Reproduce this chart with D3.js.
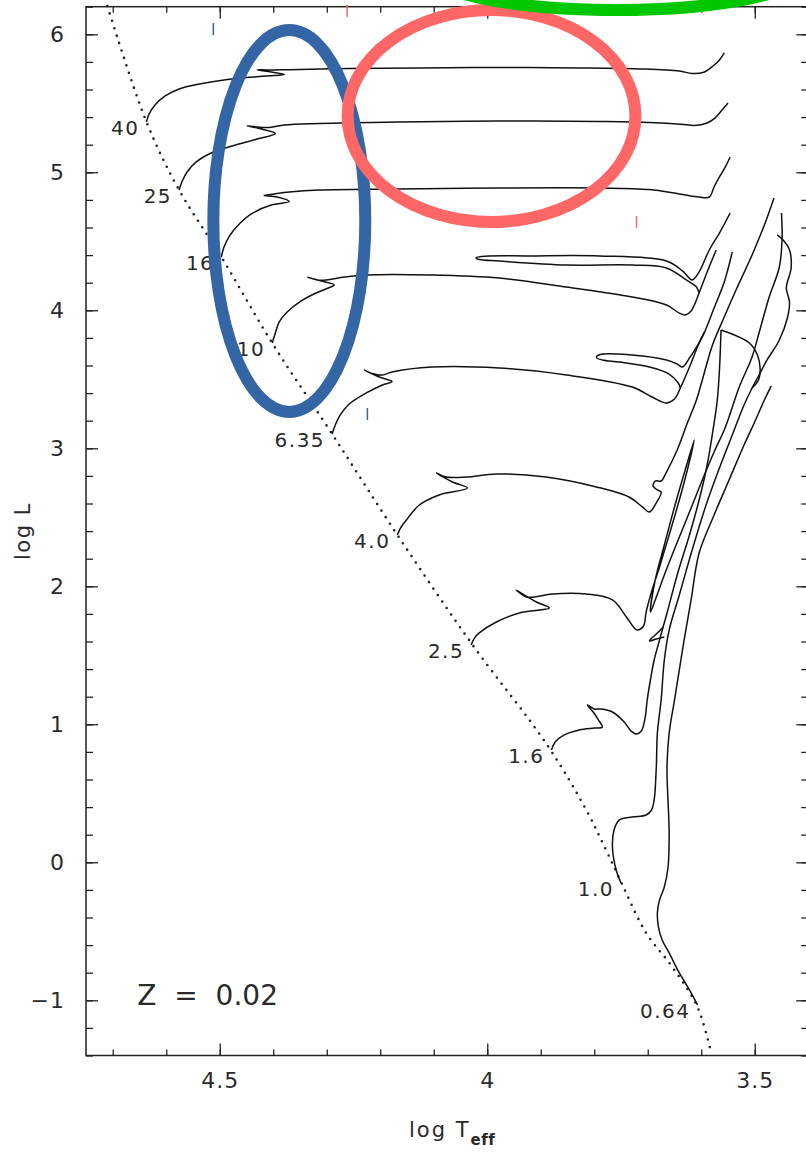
<!DOCTYPE html>
<html lang="en">
<head>
<meta charset="utf-8">
<title>HR diagram tracks Z = 0.02</title>
<script src="https://d3js.org/d3.v7.min.js"></script>
<style>
  html, body { margin: 0; padding: 0; background: #fff; }
  svg { display: block; }
  text { font-family: "DejaVu Sans", "Liberation Sans", sans-serif; fill: #2a2a2a; }
  .tick line { stroke: #222; stroke-width: 1.3px; }
  .tick text { font-size: 22px; letter-spacing: 1px; font-family: "DejaVu Sans", sans-serif; fill: #2a2a2a; }
  .track { fill: none; stroke: #111; stroke-width: 1.5px; stroke-linejoin: round; }
  .mass { font-size: 20px; letter-spacing: 1.5px; }
</style>
</head>
<body>
<svg id="chart" width="806" height="1154"></svg>
<script>
// ---- data (log Teff, log L) ----
const xTicks = [4.5, 4, 3.5];
const yTicks = [-1, 0, 1, 2, 3, 4, 5, 6];

const zamsT = [4.710, 4.637, 4.576, 4.497, 4.402, 4.290, 4.168, 4.030, 3.888, 3.815, 3.778, 3.749, 3.703, 3.654, 3.607, 3.581];
const zamsL = [6.205, 5.365, 4.872, 4.386, 3.763, 3.104, 2.372, 1.589, 0.850, 0.379, 0.089, -0.150, -0.512, -0.759, -1.049, -1.389];

const track_40 = [[4.637,5.365],[4.632,5.423],[4.621,5.488],[4.602,5.553],[4.576,5.604],[4.538,5.640],[4.492,5.669],[4.436,5.691],[4.398,5.702],[4.379,5.709],[4.404,5.727],[4.430,5.743],[4.407,5.741],[4.370,5.744],[4.258,5.752],[4.127,5.756],[3.978,5.759],[3.828,5.756],[3.716,5.749],[3.641,5.734],[3.617,5.716],[3.594,5.727],[3.578,5.770],[3.566,5.814],[3.557,5.865]];
const track_25 = [[4.576,4.872],[4.570,4.937],[4.561,5.002],[4.544,5.075],[4.516,5.140],[4.477,5.191],[4.430,5.241],[4.396,5.281],[4.422,5.314],[4.449,5.336],[4.430,5.328],[4.407,5.325],[4.379,5.343],[4.314,5.354],[4.165,5.365],[3.978,5.372],[3.791,5.368],[3.697,5.361],[3.632,5.346],[3.613,5.339],[3.589,5.357],[3.574,5.394],[3.561,5.452],[3.550,5.502]];
const track_16 = [[4.497,4.386],[4.492,4.459],[4.482,4.538],[4.467,4.611],[4.441,4.698],[4.404,4.763],[4.370,4.788],[4.393,4.821],[4.417,4.832],[4.398,4.843],[4.370,4.857],[4.314,4.872],[4.165,4.879],[3.978,4.886],[3.791,4.886],[3.697,4.875],[3.641,4.843],[3.604,4.821],[3.585,4.821],[3.576,4.894],[3.566,4.966],[3.555,5.039],[3.546,5.111]];
const track_10 = [[4.402,3.763],[4.396,3.836],[4.389,3.915],[4.374,3.988],[4.351,4.060],[4.320,4.125],[4.297,4.162],[4.286,4.183],[4.310,4.212],[4.336,4.241],[4.318,4.220],[4.301,4.220],[4.267,4.241],[4.226,4.256],[4.103,4.256],[3.978,4.234],[3.852,4.169],[3.729,4.096],[3.665,4.038],[3.641,3.980],[3.630,3.966],[3.619,3.995],[3.604,4.125],[3.589,4.278],[3.572,4.437]];
const track_10_loop = [[3.604,4.125],[3.609,4.169],[3.628,4.220],[3.665,4.307],[3.729,4.328],[3.852,4.328],[3.978,4.357],[4.015,4.368],[4.021,4.379],[4.011,4.390],[3.921,4.394],[3.791,4.394],[3.665,4.357],[3.635,4.285],[3.617,4.220],[3.604,4.278],[3.585,4.437],[3.566,4.560],[3.546,4.705]];
const track_6_35 = [[4.290,3.104],[4.284,3.169],[4.275,3.241],[4.258,3.321],[4.226,3.401],[4.196,3.459],[4.178,3.484],[4.202,3.517],[4.230,3.567],[4.215,3.542],[4.196,3.531],[4.178,3.553],[4.103,3.589],[3.978,3.582],[3.852,3.531],[3.729,3.444],[3.692,3.372],[3.665,3.328],[3.650,3.357],[3.639,3.437],[3.622,3.589],[3.604,3.763],[3.594,3.843]];
const track_6_35_loop = [[3.639,3.437],[3.643,3.473],[3.660,3.538],[3.697,3.589],[3.753,3.625],[3.785,3.640],[3.796,3.658],[3.789,3.680],[3.729,3.676],[3.665,3.640],[3.645,3.611],[3.635,3.589],[3.622,3.654],[3.598,3.807],[3.576,4.017],[3.557,4.205],[3.542,4.423]];
const track_4_0 = [[4.168,2.372],[4.161,2.430],[4.151,2.481],[4.127,2.589],[4.090,2.662],[4.037,2.712],[4.065,2.756],[4.095,2.821],[4.077,2.792],[4.039,2.792],[3.983,2.814],[3.890,2.792],[3.796,2.720],[3.735,2.647],[3.710,2.575],[3.697,2.538],[3.684,2.604],[3.675,2.683],[3.682,2.698],[3.690,2.727],[3.686,2.763],[3.675,2.763],[3.665,2.828],[3.645,2.988],[3.626,3.183],[3.609,3.350],[3.598,3.495],[3.579,3.749],[3.557,3.952],[3.535,4.147],[3.505,4.401],[3.482,4.618],[3.464,4.814]];
const track_2_5 = [[4.030,1.575],[4.024,1.625],[4.015,1.662],[3.983,1.741],[3.940,1.807],[3.884,1.843],[3.908,1.886],[3.946,1.973],[3.927,1.923],[3.912,1.923],[3.878,1.944],[3.815,1.944],[3.766,1.901],[3.740,1.778],[3.720,1.683],[3.708,1.712],[3.703,1.814],[3.693,1.959],[3.678,2.140],[3.660,2.372],[3.641,2.625],[3.626,2.843],[3.613,3.060],[3.630,2.843],[3.649,2.589],[3.669,2.299],[3.686,2.046],[3.695,1.814],[3.686,1.901],[3.669,2.082],[3.647,2.299],[3.622,2.538],[3.598,2.770],[3.576,2.973],[3.557,3.133],[3.548,3.227],[3.529,3.444],[3.505,3.662],[3.492,3.836],[3.473,4.096],[3.454,4.314],[3.449,4.509],[3.450,4.705]];
const track_1_6 = [[3.880,0.814],[3.873,0.872],[3.856,0.923],[3.828,0.959],[3.800,0.973],[3.785,0.980],[3.792,1.031],[3.802,1.089],[3.813,1.140],[3.800,1.111],[3.787,1.111],[3.766,1.089],[3.744,1.017],[3.731,0.951],[3.721,0.930],[3.712,0.951],[3.705,1.046],[3.701,1.176],[3.695,1.321],[3.688,1.466],[3.678,1.611],[3.665,1.792],[3.645,2.082],[3.622,2.372],[3.604,2.625],[3.589,2.879],[3.578,3.133],[3.570,3.350],[3.566,3.567],[3.563,3.857]];
const track_1_6_flash = [[3.563,3.857],[3.538,3.821],[3.510,3.763],[3.495,3.676],[3.490,3.582],[3.493,3.495],[3.505,3.437]];
const track_1_6_clump = [[3.669,1.633],[3.684,1.618],[3.697,1.604],[3.684,1.654],[3.671,1.705]];
const track_1_0 = [[3.750,-0.150],[3.759,-0.056],[3.766,0.111],[3.763,0.234],[3.753,0.307],[3.729,0.328],[3.703,0.343],[3.693,0.379],[3.688,0.452],[3.684,0.691],[3.682,0.937],[3.675,1.176],[3.669,1.466],[3.660,1.683],[3.641,1.937],[3.617,2.263],[3.591,2.589],[3.566,2.857],[3.542,3.096],[3.520,3.314],[3.505,3.437],[3.492,3.531],[3.477,3.640],[3.454,3.785],[3.439,3.944],[3.435,4.060],[3.441,4.162],[3.432,4.307],[3.435,4.437],[3.447,4.509],[3.458,4.546]];
const track_0_64 = [[3.607,-1.034],[3.622,-0.925],[3.641,-0.802],[3.660,-0.657],[3.673,-0.563],[3.680,-0.469],[3.682,-0.367],[3.678,-0.273],[3.669,-0.179],[3.662,-0.034],[3.660,0.212],[3.664,0.691],[3.660,0.937],[3.650,1.176],[3.641,1.394],[3.632,1.611],[3.619,1.901],[3.604,2.241],[3.576,2.517],[3.548,2.770],[3.520,3.024],[3.501,3.183],[3.482,3.350],[3.469,3.452]];

const massLabels = ["40", "25", "16", "10", "6.35", "4.0", "2.5", "1.6", "1.0", "0.64"];
const trackParts = [
  [track_40], [track_25], [track_16], [track_10, track_10_loop], [track_6_35, track_6_35_loop],
  [track_4_0], [track_2_5], [track_1_6, track_1_6_flash, track_1_6_clump], [track_1_0], [track_0_64]
];

// overlay marks drawn on the figure (centre, radii in data units)
const ringT = [4.370, 3.992, 3.759];
const ringL = [4.647, 5.408, 6.466];
const ringRT = [0.142, 0.269, 0.355];
const ringRL = [1.384, 0.768, 0.290];
const ringColors = ["#3465a5", "#ff6666", "#00c800"];
const dashT = [4.512, 4.262, 3.721, 4.224];
const dashL = [6.082, 6.212, 4.683, 3.292];
const dashColors = ["#3465a5", "#ff6666", "#ff6666", "#3465a5"];

// ---- scales ----
const svg = d3.select("#chart");
const x = d3.scaleLinear().domain([4.75, 3.40]).range([86, 808.25]);
const y = d3.scaleLinear().domain([-1.4, 6.2]).range([1055.5, 6.7]);
const [x0, x1] = x.range();
const [y0, y1] = y.range();

// minor ticks
const minorX = d3.range(3.5, 4.75, 0.1).map(v => +v.toFixed(2));
const minorY = d3.range(-1.4, 6.21, 0.2).map(v => +v.toFixed(2));

function addAxis(axis, tx, ty) {
  const g = svg.append("g").attr("transform", `translate(${tx},${ty})`).call(axis);
  g.select(".domain").remove();
  g.attr("font-family", null).attr("font-size", null);
  return g;
}
addAxis(d3.axisBottom(x).tickValues(minorX).tickSize(-6).tickFormat(""), 0, y0);
addAxis(d3.axisTop(x).tickValues(minorX).tickSize(-6).tickFormat(""), 0, y1);
addAxis(d3.axisLeft(y).tickValues(minorY).tickSize(-7).tickFormat(""), x0, 0);
addAxis(d3.axisRight(y).tickValues(minorY).tickSize(-7).tickFormat(""), x1, 0);

addAxis(d3.axisBottom(x).tickValues(xTicks).tickSize(-12).tickPadding(17).tickFormat(d3.format("")), 0, y0);
addAxis(d3.axisTop(x).tickValues(xTicks).tickSize(-12).tickFormat(""), 0, y1);
addAxis(d3.axisLeft(y).tickValues(yTicks).tickSize(-12).tickPadding(21).tickFormat(d3.format("")), x0, 0);
addAxis(d3.axisRight(y).tickValues(yTicks).tickSize(-12).tickFormat(""), x1, 0);

// frame
svg.append("rect")
  .attr("x", x0).attr("y", y1).attr("width", x1 - x0).attr("height", y0 - y1)
  .attr("fill", "none").attr("stroke", "#222").attr("stroke-width", 1.5);

// axis titles
svg.append("text")
  .attr("transform", `translate(30,${(y0 + y1) / 2}) rotate(-90)`)
  .attr("text-anchor", "middle").style("font-size", "21px").style("letter-spacing", "1.5px")
  .text("log L");
const xt = svg.append("text")
  .attr("x", 409).attr("y", 1137).style("font-size", "21px").style("letter-spacing", "2px");
xt.append("tspan").text("log T");
xt.append("tspan").attr("dy", 8).style("font-size", "15px").style("font-weight", "bold")
  .style("letter-spacing", "0.5px").text("eff");

// ZAMS dotted line
const line = d3.line().x(d => x(d[0])).y(d => y(d[1])).curve(d3.curveCatmullRom.alpha(0.5));
svg.append("path")
  .datum(zamsT.map((t, i) => [t, zamsL[i]]))
  .attr("d", line)
  .attr("fill", "none").attr("stroke", "#222").attr("stroke-width", 2.6)
  .attr("stroke-linecap", "round").attr("stroke-dasharray", "0 7.8");

// tracks
trackParts.forEach((parts, i) => {
  parts.forEach(seg => {
    svg.append("path").datum(seg).attr("class", "track").attr("d", line);
  });
  const start = parts[0][0];
  svg.append("text")
    .attr("class", "mass")
    .attr("x", x(start[0]) - 7).attr("y", y(start[1]) + 13)
    .attr("text-anchor", "end")
    .text(massLabels[i]);
});

// metallicity label
svg.append("text")
  .attr("x", x(4.654)).attr("y", y(-1.034))
  .style("font-size", "28px").style("white-space", "pre")
  .attr("xml:space", "preserve")
  .text("Z  =  0.02");

// overlay rings and marks
ringT.forEach((t, i) => {
  svg.append("ellipse")
    .attr("cx", x(t)).attr("cy", y(ringL[i]))
    .attr("rx", Math.abs(x(t + ringRT[i]) - x(t)))
    .attr("ry", Math.abs(y(ringL[i] + ringRL[i]) - y(ringL[i])))
    .attr("fill", "none").attr("stroke", ringColors[i]).attr("stroke-width", 12);
});
dashT.forEach((t, i) => {
  svg.append("line")
    .attr("x1", x(t)).attr("x2", x(t))
    .attr("y1", y(dashL[i])).attr("y2", y(dashL[i] - 0.087))
    .attr("stroke", dashColors[i]).attr("stroke-width", 1.5);
});
</script>
</body>
</html>
